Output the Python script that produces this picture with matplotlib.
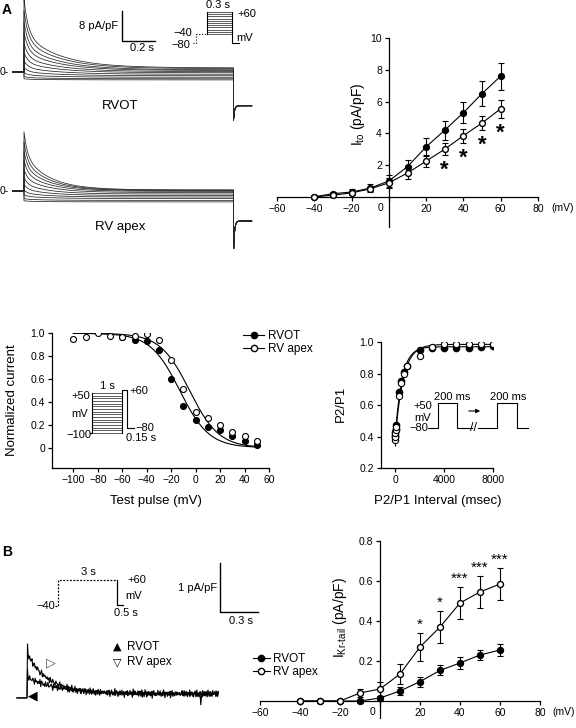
import numpy as np
import matplotlib.pyplot as plt
from matplotlib.lines import Line2D

plt.rcParams['font.family'] = ['Liberation Sans', 'DejaVu Sans']
plt.rcParams['mathtext.fontset'] = 'custom'
plt.rcParams['mathtext.rm'] = 'Liberation Sans'
plt.rcParams['axes.linewidth'] = 0.9

W, H = 576, 728

# ---- A: raw Ito traces (pA/pF), one value per test step ----
steps_mv = [-40, -30, -20, -10, 0, 10, 20, 30, 40, 50, 60]
rvot_peak = [0.3, 0.6, 1.2, 2.2, 3.6, 5.4, 7.6, 10.2, 12.8, 15.6, 18.4]
rvot_ss = [-2.1, -1.8, -1.4, -1.0, -0.6, -0.2, 0.1, 0.4, 0.6, 0.9, 1.1]
apex_peak = [0.3, 0.5, 1.0, 1.8, 3.0, 4.5, 6.3, 8.4, 10.6, 13.0, 15.5]
apex_ss = [-2.9, -2.5, -2.0, -1.6, -1.2, -0.8, -0.4, -0.1, 0.1, 0.2, 0.3]
rvot_tail = [-12.8, -9.0]
apex_tail = [-16.3, -8.0]
pulse_s = 1.27

# ---- A: Ito I-V ----
ito_mv = [-40, -30, -20, -10, 0, 10, 20, 30, 40, 50, 60]
ito_rvot = [0.0, 0.2, 0.3, 0.55, 1.0, 1.9, 3.15, 4.2, 5.3, 6.5, 7.6]
ito_rvot_err = [0.05, 0.1, 0.2, 0.25, 0.35, 0.45, 0.55, 0.6, 0.65, 0.8, 0.85]
ito_apex = [0.0, 0.1, 0.25, 0.5, 0.88, 1.5, 2.25, 3.0, 3.85, 4.65, 5.55]
ito_apex_err = [0.05, 0.08, 0.1, 0.15, 0.3, 0.35, 0.4, 0.38, 0.45, 0.47, 0.57]
ito_sig_mv = [30, 40, 50, 60]

# ---- A: steady-state inactivation ----
inact_apex_mv = [-100, -90, -80, -70, -60, -50, -40, -30, -20, -10, 0, 10, 20, 30, 40, 50]
inact_apex = [0.95, 0.965, 1.0, 0.98, 0.97, 0.98, 0.99, 0.94, 0.77, 0.51, 0.31, 0.26, 0.20, 0.14, 0.10, 0.06]
inact_rvot_mv = [-60, -50, -40, -30, -20, -10, 0, 10, 20, 30, 40, 50]
inact_rvot = [0.97, 0.94, 0.93, 0.85, 0.60, 0.36, 0.24, 0.18, 0.155, 0.105, 0.06, 0.025]
boltz_rvot = [-13, 12]   # V1/2, slope
boltz_apex = [-5, 12]
pre_mv = [-100, -90, -80, -70, -60, -50, -40, -30, -20, -10, 0, 10, 20, 30, 40, 50]

# ---- A: recovery from inactivation ----
rec_ms = [5, 10, 20, 50, 100, 300, 500, 700, 1000, 2000, 3000, 4000, 5000, 6000, 7000, 8000]
rec_rvot = [0.40, 0.41, 0.43, 0.45, 0.47, 0.68, 0.75, 0.81, 0.85, 0.95, 0.96, 0.965, 0.965, 0.965, 0.97, 0.975]
rec_apex = [0.38, 0.40, 0.42, 0.44, 0.46, 0.66, 0.74, 0.80, 0.85, 0.91, 0.97, 0.985, 0.985, 0.985, 0.985, 0.99]
rec_err = [0.04, 0.04, 0.03, 0.03, 0.03, 0.02, 0.02, 0.015, 0.01, 0.01, 0.01, 0.01, 0.01, 0.01, 0.01, 0.01]
rec_fit_rvot = [0.97, 0.38, 550]   # plateau, start, tau (ms)
rec_fit_apex = [0.985, 0.37, 650]

# ---- B: IKr tail trace (pA/pF) ----
ikr_tr_apex = [0.82, 0.17]   # amplitude, tau (s)
ikr_tr_rvot = [0.34, 0.25]
noise_a = [0.03, -0.02, 0.05, -0.04, 0.01, 0.04, -0.03, 0.00, 0.06, -0.05, 0.02, -0.01, 0.04, -0.03,
           0.03, -0.06, 0.01, 0.05, -0.02, 0.02, -0.04, 0.04, 0.00, -0.03, 0.05, -0.02, 0.01, -0.05,
           0.03, 0.02, -0.04, 0.06, -0.01, 0.00, -0.03, 0.04, -0.02, 0.03, -0.05, 0.01, 0.05, -0.04,
           0.02, -0.02, 0.04, -0.03, 0.01]
noise_b = [0.01, -0.02, 0.00, 0.02, -0.01, 0.03, -0.03, 0.01, -0.01, 0.02, 0.00, -0.02, 0.01, 0.03,
           -0.02, 0.00, -0.01, 0.02, -0.03, 0.01, 0.02, -0.01, 0.00]

# ---- B: IKr-tail I-V ----
ikr_mv = [-40, -30, -20, -10, 0, 10, 20, 30, 40, 50, 60]
ikr_rvot = [0.0, 0.0, 0.0, 0.0, 0.015, 0.05, 0.097, 0.153, 0.19, 0.23, 0.255]
ikr_rvot_err = [0.0, 0.0, 0.0, 0.01, 0.01, 0.02, 0.025, 0.025, 0.03, 0.025, 0.03]
ikr_apex = [0.0, 0.0, 0.0, 0.04, 0.06, 0.135, 0.27, 0.37, 0.49, 0.545, 0.585]
ikr_apex_err = [0.0, 0.0, 0.0, 0.02, 0.035, 0.05, 0.07, 0.08, 0.08, 0.08, 0.08]
ikr_sig_mv = [20, 30, 40, 50, 60]
ikr_sig = ['*', '*', '***', '***', '***']

fig = plt.figure(figsize=(5.76, 7.28), dpi=100)


def px_axes(x0, y0, x1, y1):
    return fig.add_axes([x0 / W, 1 - y1 / H, (x1 - x0) / W, (y1 - y0) / H])


def ftext(x, y, s, **kw):
    kw.setdefault('ha', 'center')
    kw.setdefault('va', 'center')
    fig.text(x / W, 1 - y / H, s, **kw)


def style_axes(ax):
    for s in ['top', 'right']:
        ax.spines[s].set_visible(False)
    ax.tick_params(direction='out', length=3, width=0.9, labelsize=7.5, pad=2)


# ================= A: traces =================
TS, TI = 165.0, 3.75   # px per s, px per pA/pF


def ito_trace(peak, ss, tail, frac, tau_f, tau_s):
    t_on = np.linspace(0, pulse_s, 500)
    i_on = ss + peak * (frac * np.exp(-t_on / tau_f) + (1 - frac) * np.exp(-t_on / tau_s))
    t_off = np.linspace(pulse_s, pulse_s + 0.11, 60)
    i_off = tail[1] + (tail[0] - tail[1]) * np.exp(-(t_off - pulse_s) / 0.006)
    return (np.concatenate([[-0.07, 0], t_on, t_off]),
            np.concatenate([[0, 0], i_on, i_off]))


ax_t1 = px_axes(0, 0, 290, 130)
ax_t2 = px_axes(0, 119, 290, 249)
for ax in [ax_t1, ax_t2]:
    ax.set_xlim(-24 / TS, 266 / TS)
    ax.set_ylim(-58 / TI, 72 / TI)
    ax.axis('off')
for pk, ss in zip(rvot_peak, rvot_ss):
    t, i = ito_trace(pk, ss, rvot_tail, 0.5, 0.025, 0.21)
    ax_t1.plot(t, i, color='0.15', lw=0.55)
for pk, ss in zip(apex_peak, apex_ss):
    t, i = ito_trace(pk, ss, apex_tail, 0.4, 0.02, 0.15)
    ax_t2.plot(t, i, color='0.15', lw=0.55)

# scale bar 8 pA/pF, 0.2 s
sb_t, sb_i = 98 / TS, 31 / TI
ax_t1.plot([sb_t, sb_t, sb_t + 0.2], [sb_i + 8, sb_i, sb_i], color='k', lw=1)
ftext(118, 26, '8 pA/pF', ha='right', fontsize=8)
ftext(142, 48, '0.2 s', fontsize=8)
ftext(0, 72, '0-', ha='left', fontsize=7.5)
ftext(0, 191, '0-', ha='left', fontsize=7.5)
ftext(120, 106, 'RVOT', fontsize=9.5)
ftext(120, 227, 'RV apex', fontsize=9.5)
ftext(2, 10, 'A', ha='left', fontsize=10, fontweight='bold')

# Ito protocol
ax_p1 = px_axes(170, 0, 250, 50)
ax_p1.set_xlim((170 - 207) / 83.3, (250 - 207) / 83.3)
ax_p1.set_ylim(60 - 38 / 0.22, 60 + 12 / 0.22)
ax_p1.axis('off')
for v in steps_mv:
    ax_p1.plot([0, 0.3], [v, v], color='0.25', lw=0.6)
ax_p1.plot([0, 0], [-40, 60], color='k', lw=0.8)
ax_p1.plot([0.3, 0.3, 0.385], [60, -80, -80], color='k', lw=0.8)
ax_p1.plot([-0.17, -0.13, -0.13, 0], [-80, -80, -40, -40], color='k', lw=0.8, ls=':')
ftext(218, 5, '0.3 s', fontsize=8)
ftext(237, 14, '+60', ha='left', fontsize=8)
ftext(236, 38, 'mV', ha='left', fontsize=8)
ftext(192, 33, '\u221240', ha='right', fontsize=8)
ftext(190, 45, '\u221280', ha='right', fontsize=8)

# ================= A: Ito I-V =================
ax1 = px_axes(277, 38, 538, 227)
style_axes(ax1)
ax1.spines['left'].set_position(('data', 0))
ax1.spines['bottom'].set_position(('data', 0))
ax1.set_xlim(-60, 80)
ax1.set_ylim(-1.9, 10)
ax1.set_xticks(range(-60, 81, 20))
ax1.set_xticklabels(['\u221260', '\u221240', '\u221220', '', '20', '40', '60', '80'])
ax1.set_yticks([2, 4, 6, 8, 10])
eb = dict(color='k', lw=0.8, elinewidth=0.8, capsize=2.2, capthick=0.8, clip_on=False)
ax1.errorbar(ito_mv, ito_rvot, yerr=ito_rvot_err, fmt='-o', ms=4.2, mfc='k', zorder=3, **eb)
ax1.errorbar(ito_mv, ito_apex, yerr=ito_apex_err, fmt='-o', ms=4.2, mfc='white', zorder=4, **eb)
for v in ito_sig_mv:
    k = ito_mv.index(v)
    ax1.text(v, ito_apex[k] - ito_apex_err[k] - 0.95, '*', ha='center', va='center',
             fontsize=16, fontweight='bold')
ftext(380, 208, '0', fontsize=7.5)
ftext(551, 208, '(mV)', ha='left', fontsize=7.5)
ftext(358, 114, r'I$_{\mathregular{to}}$ (pA/pF)', rotation=90, fontsize=10)

# ================= A: inactivation =================
ax2 = px_axes(52, 333.3, 269, 468)
style_axes(ax2)
ax2.set_xlim(-117.5, 60)
ax2.set_ylim(-0.178, 1.0)
ax2.set_xticks(range(-100, 61, 20))
ax2.set_yticks([0, 0.2, 0.4, 0.6, 0.8, 1.0])
ax2.set_yticklabels(['0', '0.2', '0.4', '0.6', '0.8', '1.0'])
v = np.linspace(-100, 50, 200)
for vh, kk in [boltz_rvot, boltz_apex]:
    ax2.plot(v, 1 / (1 + np.exp((v - vh) / kk)), color='k', lw=0.8)
ax2.plot(inact_rvot_mv, inact_rvot, 'o', color='k', mfc='k', ms=4.3, mew=0.8, zorder=3)
ax2.plot(inact_apex_mv, inact_apex, 'o', color='k', mfc='white', ms=4.3, mew=0.8, zorder=4)
ftext(12, 400, 'Normalized current', rotation=90, fontsize=9.5)
ftext(156, 501, 'Test pulse (mV)', fontsize=9.5)

# inactivation protocol
ax_p2 = px_axes(60, 380, 160, 445)
ax_p2.set_xlim((60 - 92) / 30, (160 - 92) / 30)
ax_p2.set_ylim(50 - 52 / 0.2667, 50 + 13 / 0.2667)
ax_p2.axis('off')
for vv in pre_mv:
    ax_p2.plot([0, 1], [vv, vv], color='0.25', lw=0.6)
ax_p2.plot([-0.07, 0, 0], [-100, -100, 50], color='k', lw=0.8)
ax_p2.plot([1, 1, 1.15, 1.15, 1.4], [-100, 60, 60, -80, -80], color='k', lw=0.8)
ftext(90, 396, '+50', ha='right', fontsize=8)
ftext(107, 386, '1 s', fontsize=8)
ftext(129, 391, '+60', ha='left', fontsize=8)
ftext(80, 414, 'mV', fontsize=8)
ftext(91, 435, '\u2212100', ha='right', fontsize=8)
ftext(135, 428, '\u221280', ha='left', fontsize=8)
ftext(126, 438, '0.15 s', ha='left', fontsize=8)

h_f = Line2D([], [], color='k', marker='o', mfc='k', ms=4.5, lw=0.8)
h_o = Line2D([], [], color='k', marker='o', mfc='white', ms=4.5, lw=0.8)
fig.legend([h_f, h_o], ['RVOT', 'RV apex'], loc='upper left', bbox_to_anchor=(243 / W, 1 - 330 / H),
           frameon=False, fontsize=8.5, handlelength=1.8, handletextpad=0.3, labelspacing=0.1,
           borderpad=0, borderaxespad=0)

# ================= A: recovery =================
ax3 = px_axes(381, 342, 493.3, 468)
style_axes(ax3)
ax3.set_xlim(-1143, 8000)
ax3.set_ylim(0.2, 1.0)
ax3.set_xticks([0, 4000, 8000])
ax3.set_yticks([0.2, 0.4, 0.6, 0.8, 1.0])
ax3.set_yticklabels(['0.2', '0.4', '0.6', '0.8', '1.0'])
tt = np.linspace(0, 8000, 400)
for pl, y0, tau in [rec_fit_rvot, rec_fit_apex]:
    ax3.plot(tt, pl - (pl - y0) * np.exp(-tt / tau), color='k', lw=0.8)
ax3.errorbar(rec_ms, rec_rvot, yerr=rec_err, fmt='o', color='k', mfc='k', ms=4.5, elinewidth=0.8,
             capsize=0, zorder=3)
ax3.errorbar(rec_ms, rec_apex, yerr=rec_err, fmt='o', color='k', mfc='white', ms=4.5, mew=0.8,
             elinewidth=0.8, capsize=0, zorder=4)
ftext(341, 404, 'P2/P1', rotation=90, fontsize=9.5)
ftext(438, 501, 'P2/P1 Interval (msec)', fontsize=9.5)

# recovery protocol
ax_p3 = px_axes(400, 390, 540, 440)
ax_p3.set_xlim(-38 / 0.095, 102 / 0.095)
ax_p3.set_ylim(-80 - 12 / 0.192, -80 + 38 / 0.192)
ax_p3.axis('off')
ax_p3.plot([-105, 0, 0, 200, 200, 358], [-80, -80, 50, 50, -80, -80], color='k', lw=0.8)
ax_p3.plot([421, 621, 621, 831, 831, 947], [-80, -80, 50, 50, -80, -80], color='k', lw=0.8)
ftext(474, 428, '//', fontsize=9)
ftext(452, 397, '200 ms', fontsize=8)
ftext(508, 397, '200 ms', fontsize=8)
ftext(432, 406, '+50', ha='right', fontsize=8)
ftext(423, 418, 'mV', fontsize=8)
ftext(428, 428, '\u221280', ha='right', fontsize=8)
fig.add_artist(plt.Annotation('', xy=(483 / W, 1 - 411 / H), xytext=(466 / W, 1 - 411 / H),
                              xycoords='figure fraction',
                              arrowprops=dict(arrowstyle='-|>', color='k', lw=0.8, mutation_scale=6)))

# ================= B: protocol, trace =================
ftext(2, 552, 'B', ha='left', fontsize=10, fontweight='bold')
ax_p4 = px_axes(40, 565, 140, 615)
ax_p4.set_xlim(-18 / 19.7, 82 / 19.7)
ax_p4.set_ylim(-40 - 9 / 0.26, -40 + 41 / 0.26)
ax_p4.axis('off')
ax_p4.plot([-0.15, 0, 0, 3], [-40, -40, 60, 60], color='k', lw=0.9, ls=(0, (1.5, 1.2)))
ax_p4.plot([3, 3, 3.3], [60, -35, -35], color='k', lw=0.9)
ftext(55, 606, '\u221240', ha='right', fontsize=8)
ftext(88, 572, '3 s', fontsize=8)
ftext(127, 580, '+60', ha='left', fontsize=8)
ftext(125, 596, 'mV', ha='left', fontsize=8)
ftext(126, 613, '0.5 s', fontsize=8)

ax_t3 = px_axes(10, 630, 225, 712)
ax_t3.set_xlim(-17 / 126.7, 198 / 126.7)
ax_t3.set_ylim(-18 / 49, 64 / 49)
ax_t3.axis('off')
n = 240
ta = np.linspace(0.008, 1.51, n)
na = np.resize(noise_a, n) + np.resize(noise_b, n)
nb = np.resize(noise_b[::-1], n) + np.resize(noise_a[::-1], n)
ia = ikr_tr_apex[0] * np.exp(-ta / ikr_tr_apex[1]) + na
ib = ikr_tr_rvot[0] * np.exp(-ta / ikr_tr_rvot[1]) + nb
ib[int(n * 0.905)] = -0.22
ax_t3.plot(np.concatenate([[-0.08, 0, 0.004], ta]), np.concatenate([[-0.08, -0.08, 1.02], ia]),
           color='k', lw=0.8)
ax_t3.plot(np.concatenate([[-0.08, 0, 0.004], ta]), np.concatenate([[-0.08, -0.08, 0.5], ib]),
           color='k', lw=0.8)
# scale bar 1 pA/pF, 0.3 s
ax_sb = px_axes(200, 555, 270, 615)
ax_sb.set_xlim(-20 / 126.7, 50 / 126.7)
ax_sb.set_ylim(-3 / 49, 57 / 49)
ax_sb.axis('off')
ax_sb.plot([0, 0, 0.3], [1, 0, 0], color='k', lw=1)
ftext(217, 588, '1 pA/pF', ha='right', fontsize=8)
ftext(241, 621, '0.3 s', fontsize=8)

ftext(51, 663, '\u25b7', fontsize=9, color='0.3', family='DejaVu Sans')
ftext(33, 696, '\u25c0', fontsize=9, family='DejaVu Sans')
ftext(117, 647, '\u25b2', fontsize=8, family='DejaVu Sans')
ftext(117, 662, '\u25bd', fontsize=8, family='DejaVu Sans')
ftext(127, 647, 'RVOT', ha='left', fontsize=8.5)
ftext(127, 662, 'RV apex', ha='left', fontsize=8.5)

# ================= B: IKr-tail I-V =================
ax4 = px_axes(260, 541, 540, 718)
style_axes(ax4)
ax4.spines['left'].set_position(('data', 0))
ax4.spines['bottom'].set_position(('data', 0))
ax4.set_xlim(-60, 80)
ax4.set_ylim(-0.085, 0.8)
ax4.set_xticks(range(-60, 81, 20))
ax4.set_xticklabels(['\u221260', '\u221240', '\u221220', '', '20', '40', '60', '80'])
ax4.set_yticks([0.2, 0.4, 0.6, 0.8])
ax4.errorbar(ikr_mv, ikr_rvot, yerr=ikr_rvot_err, fmt='-o', ms=4.3, mfc='k', zorder=3, **eb)
ax4.errorbar(ikr_mv, ikr_apex, yerr=ikr_apex_err, fmt='-o', ms=4.3, mfc='white', zorder=4, **eb)
for v, s in zip(ikr_sig_mv, ikr_sig):
    k = ikr_mv.index(v)
    ax4.text(v, ikr_apex[k] + ikr_apex_err[k] + 0.005, s, ha='center', va='bottom', fontsize=11)
ftext(373, 712, '0', fontsize=7.5)
ftext(552, 712, '(mV)', ha='left', fontsize=7.5)
ftext(340, 617, 'I$_{\\mathregular{Kr\u2010tail}}$ (pA/pF)', rotation=90, fontsize=10)
fig.legend([h_f, h_o], ['RVOT', 'RV apex'], loc='upper left', bbox_to_anchor=(253 / W, 1 - 653 / H),
           frameon=False, fontsize=8.5, handlelength=1.4, handletextpad=0.3, labelspacing=0.1,
           borderpad=0, borderaxespad=0)

fig.savefig('out.png', dpi=100)
